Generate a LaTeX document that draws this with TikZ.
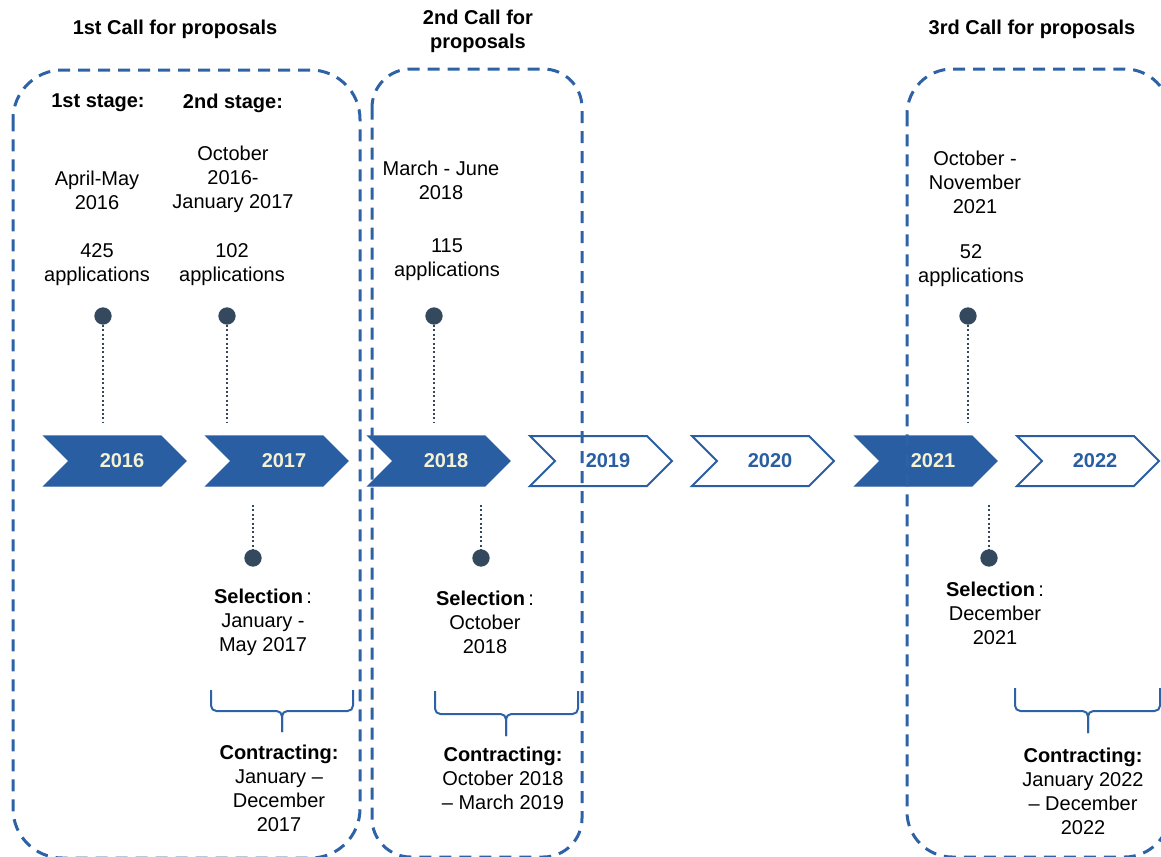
\documentclass[tikz,border=0pt]{standalone}
\usepackage{fontspec}
\setmainfont{Liberation Sans}
\definecolor{boxblue}{HTML}{2E62A6}
\definecolor{chevblue}{HTML}{2A5EA2}
\definecolor{cream}{HTML}{F4F1D4}
\definecolor{dotc}{HTML}{34495E}
\begin{document}
\begin{tikzpicture}[x=0.75pt,y=-0.75pt,
  every node/.style={font=\fontsize{15}{18}\selectfont, inner sep=0pt, align=center},
  ttl/.style={font=\fontsize{15}{18}\selectfont\bfseries},
  bx/.style={draw=boxblue, line width=2.25pt, dash pattern=on 9pt off 6pt},
  chevfill/.style={fill=chevblue, draw=chevblue, line width=1pt},
  chevline/.style={draw=chevblue, line width=1.5pt, fill=white},
  yrf/.style={font=\fontsize{15}{18}\selectfont\bfseries, text=cream},
  yrl/.style={font=\fontsize{15}{18}\selectfont\bfseries, text=chevblue},
  dotn/.style={circle, fill=dotc, minimum size=13pt, inner sep=0pt},
  dl/.style={draw=dotc, line width=1.7pt, dash pattern=on 1.5pt off 1.8pt},
  br/.style={draw=boxblue, line width=1.5pt, rounded corners=4pt}
]
\useasboundingbox (0,0) rectangle (1161,857);

% year chevrons
\foreach \L/\yr in {44/2016,206/2017,368/2018,855/2021}{
  \draw[chevfill] (\L,436) -- ++(117,0) -- ++(25,25) -- ++(-25,25) -- ++(-117,0) -- ++(25,-25) -- cycle;
  \node[yrf] (y\yr) at (\L+78,461) {\yr};
}
\foreach \L/\yr in {530/2019,692/2020,1017/2022}{
  \draw[chevline] (\L,436) -- ++(117,0) -- ++(25,25) -- ++(-25,25) -- ++(-117,0) -- ++(25,-25) -- cycle;
  \node[yrl] (y\yr) at (\L+78,461) {\yr};
}

% dashed call boxes
\draw[bx, rounded corners=37pt] (13,70) rectangle (360,858);
\draw[bx, rounded corners=29pt] (372,69) rectangle (582,857);
\draw[bx, rounded corners=34pt] (907,69) rectangle (1170,857);

% titles
\node[ttl] (t1) at (175,29) {1st Call for proposals};
\node[ttl] (t2) at (478,31) {2nd Call for\\proposals};
\node[ttl] (t3) at (1032,29) {3rd Call for proposals};

% first call
\node[ttl] (s1) at (98,103) {1st stage:};
\node[ttl] (s2) at (233,103) {2nd stage:};
\node (d1) at (97,190) {April-May\\2016};
\node (d2) at (233,179) {October\\2016-\\January 2017};
\node (a1) at (97,265) {425\\applications};
\node (a2) at (232,265) {102\\applications};

% second call
\node (d3) at (441,180) {March - June\\2018};
\node (a3) at (447,260) {115\\applications};

% third call
\node (d4) at (975,182) {October -\\November\\2021};
\node (a4) at (971,266) {52\\applications};

% upper dots and dotted lines
\node[dotn] (p1) at (103,316) {};
\node[dotn] (p2) at (227,316) {};
\node[dotn] (p3) at (434,316) {};
\node[dotn] (p4) at (968,316) {};
\coordinate (p1e) at (103,423);
\coordinate (p2e) at (227,423);
\coordinate (p3e) at (434,423);
\coordinate (p4e) at (968,423);
\draw[dl] (p1) -- (p1e);
\draw[dl] (p2) -- (p2e);
\draw[dl] (p3) -- (p3e);
\draw[dl] (p4) -- (p4e);

% lower dots and dotted lines
\node[dotn] (q1) at (253,558) {};
\node[dotn] (q2) at (481,558) {};
\node[dotn] (q3) at (989,558) {};
\coordinate (q1s) at (253,505);
\coordinate (q2s) at (481,505);
\coordinate (q3s) at (989,505);
\draw[dl] (q1s) -- (q1);
\draw[dl] (q2s) -- (q2);
\draw[dl] (q3s) -- (q3);

% selection texts
\node (sel1) at (263,622) {\textbf{Selection}\,:\\January -\\May 2017};
\node (sel2) at (485,622) {\textbf{Selection}\,:\\October\\2018};
\node (sel3) at (995,613) {\textbf{Selection}\,:\\December\\2021};

% braces
\draw[br] (211,690) -- (211,711) -- (282,711) -- (282,732);
\draw[br] (353,690) -- (353,711) -- (282,711) -- (282,732);
\draw[br] (435,691) -- (435,714) -- (506,714) -- (506,736);
\draw[br] (578,691) -- (578,714) -- (506,714) -- (506,736);
\draw[br] (1015,688) -- (1015,711) -- (1088,711) -- (1088,733);
\draw[br] (1160,688) -- (1160,711) -- (1088,711) -- (1088,733);

% contracting texts
\node (c1) at (279,788) {\textbf{Contracting:}\\January –\\December\\2017};
\node (c2) at (503,778) {\textbf{Contracting:}\\October 2018\\– March 2019};
\node (c3) at (1083,791) {\textbf{Contracting:}\\January 2022\\– December\\2022};
\end{tikzpicture}
\end{document}
